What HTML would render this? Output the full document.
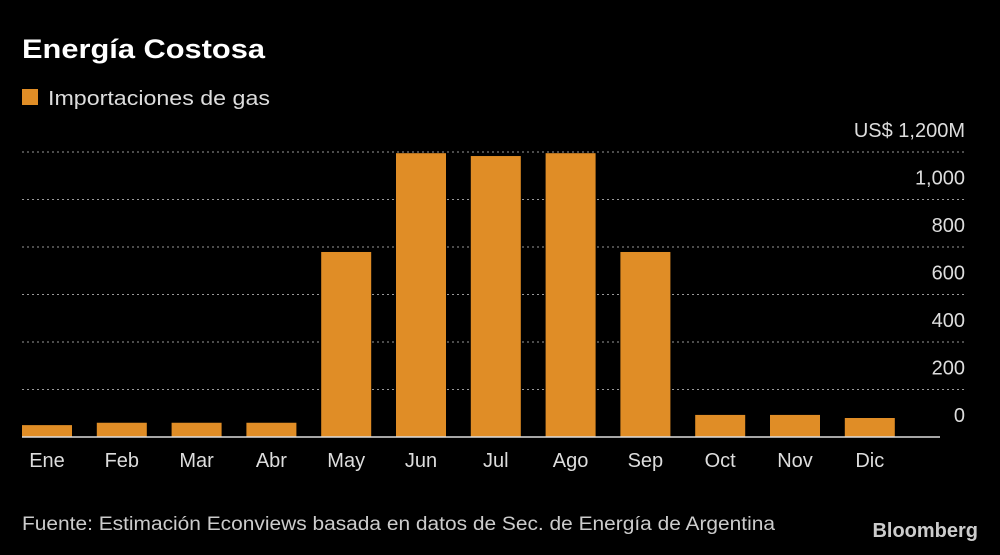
<!DOCTYPE html>
<html><head><meta charset="utf-8"><style>
body{margin:0;background:#000;width:1000px;height:550px;overflow:hidden;font-family:"Liberation Sans",sans-serif;color:#ddd}
</style></head><body>
<svg width="1000" height="550" xmlns="http://www.w3.org/2000/svg">
<text x="22" y="58" fill="#fff" font-size="27" font-weight="bold" textLength="243" lengthAdjust="spacingAndGlyphs">Energía Costosa</text>
<rect x="22" y="89" width="16" height="16" fill="#e08d26"/>
<text x="48" y="105" fill="#ddd" font-size="20" textLength="222" lengthAdjust="spacingAndGlyphs">Importaciones de gas</text>
<g id="grid"></g><g id="bars"></g><g id="xlabels"></g>
<text x="22" y="530" fill="#ccc" font-size="19" textLength="753" lengthAdjust="spacingAndGlyphs">Fuente: Estimación Econviews basada en datos de Sec. de Energía de Argentina</text>
<text x="978" y="537" text-anchor="end" fill="#ccc" font-size="20" font-weight="bold">Bloomberg</text>
</svg>
<script>
const categories=["Ene","Feb","Mar","Abr","May","Jun","Jul","Ago","Sep","Oct","Nov","Dic"];
const values=[50,60,60,60,779,1195,1183,1195,779,93,93,80];
const ticks=[0,200,400,600,800,1000,1200];
const tickLabels=["0","200","400","600","800","1,000","US$ 1,200M"];
const NS="http://www.w3.org/2000/svg";
const y=v=>437-v*(285/1200);
const x=i=>22+i*74.8;
const bw=50;
function mk(t,a,txt){const e=document.createElementNS(NS,t);for(const k in a)e.setAttribute(k,a[k]);if(txt!=null)e.textContent=txt;return e;}
const g=document.getElementById('grid');
ticks.forEach((t,i)=>{
  if(t>0){const l=mk('line',{x1:22,x2:964,y1:y(t),y2:y(t),stroke:'#999','stroke-width':1,'stroke-dasharray':'2,3'});
  
  g.appendChild(l);}
  const tx=mk('text',{x:965,y:y(t)-15,'text-anchor':'end',fill:'#ddd','font-size':20},tickLabels[i]);
  
  g.appendChild(tx);
});
const b=document.getElementById('bars'),xl=document.getElementById('xlabels');
values.forEach((v,i)=>{
  const r=mk('rect',{x:x(i),y:y(v),width:bw,height:437-y(v),fill:'#e08d26'});
  
  b.appendChild(r);
  const t=mk('text',{x:x(i)+bw/2,y:467,'text-anchor':'middle',fill:'#ddd','font-size':20},categories[i]);
  
  xl.appendChild(t);
});
const base=mk('line',{x1:22,x2:940,y1:437,y2:437,stroke:'#ddd','stroke-width':1.5});

b.appendChild(base);
</script>
</body></html>
